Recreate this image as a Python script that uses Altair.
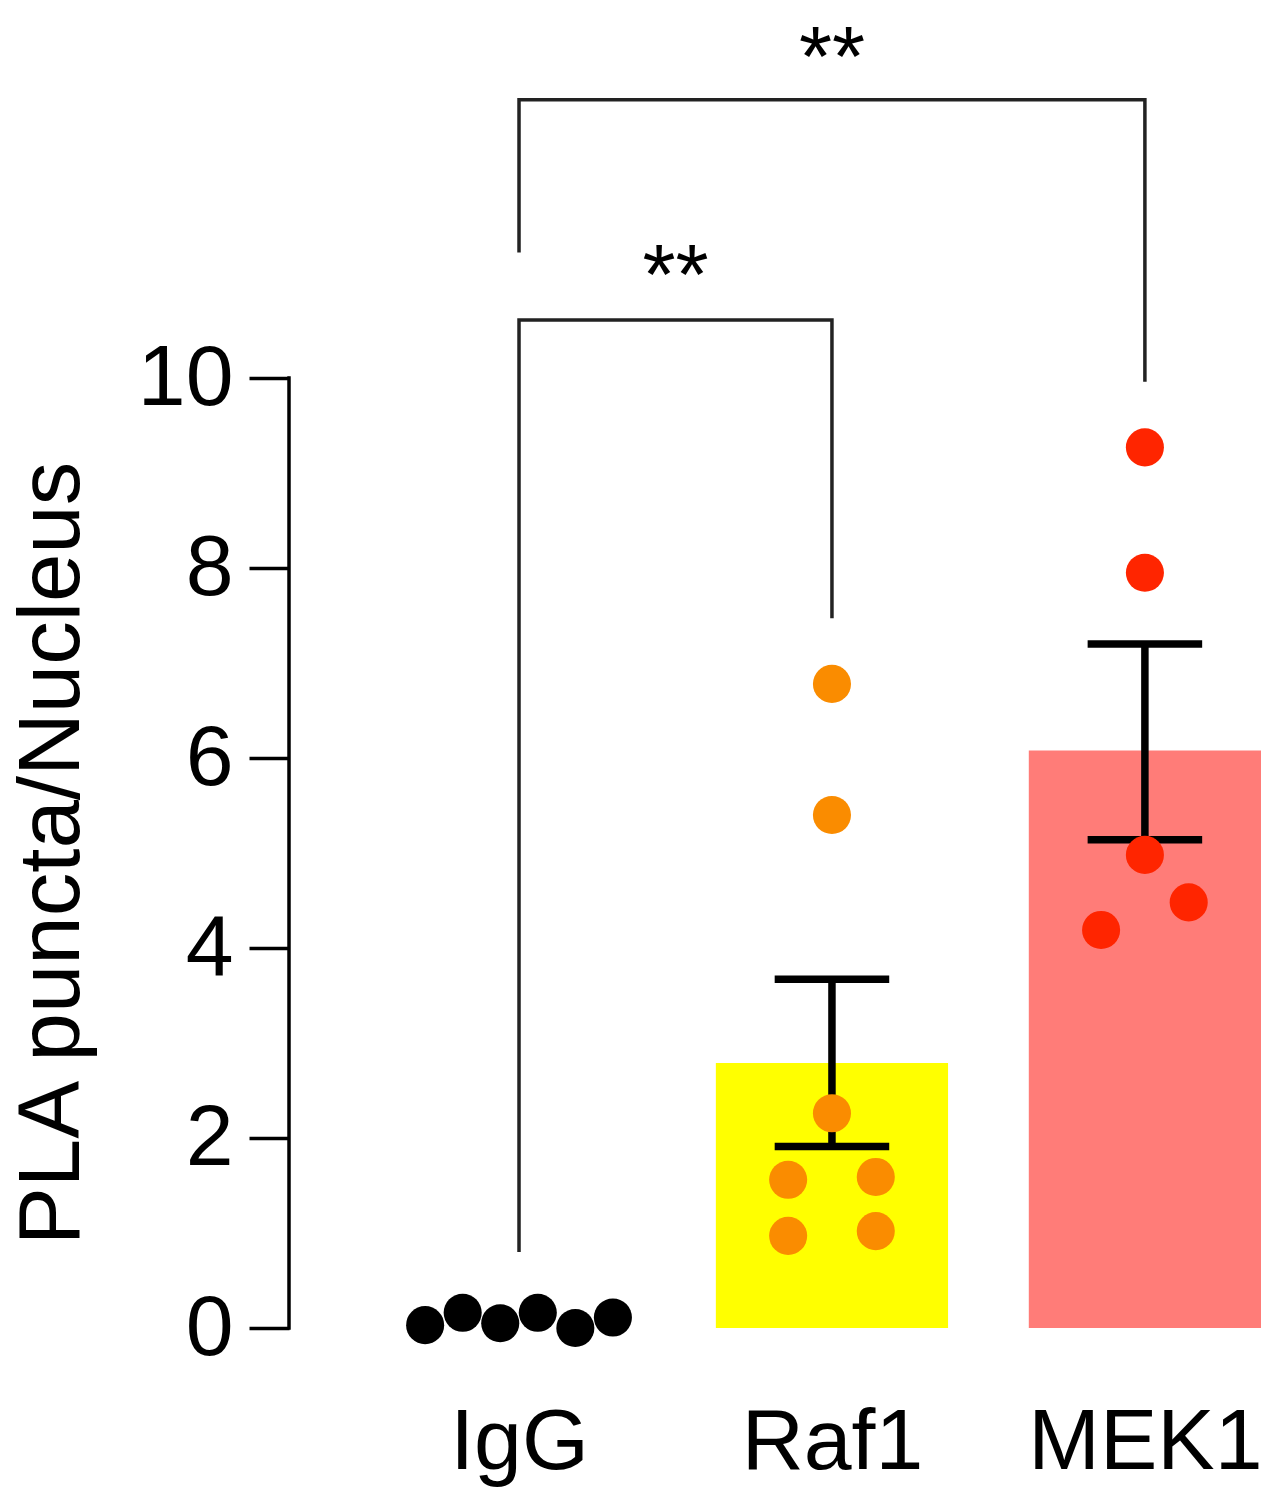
import altair as alt
import pandas as pd

# ---- data ----
groups = ["IgG", "Raf1", "MEK1"]
bar_means = [0.09, 2.79, 6.08]
bar_colors = ["#FFFFFF", "#FFFF00", "#FF7C78"]
err_lo = [None, 1.91, 5.14]
err_hi = [None, 3.67, 7.20]

igg_vals = [0.03, 0.16, 0.05, 0.16, 0.00, 0.11]
igg_off = [-0.30, -0.18, -0.06, 0.06, 0.18, 0.30]
raf1_vals = [6.78, 5.40, 2.26, 1.56, 1.59, 0.97, 1.02]
raf1_off = [0.0, 0.0, 0.0, -0.14, 0.14, -0.14, 0.14]
mek1_vals = [9.27, 7.95, 4.98, 4.48, 4.19]
mek1_off = [0.0, 0.0, 0.0, 0.14, -0.14]
point_colors = ["#000000", "#FA8C00", "#FF2500"]

# significance brackets: (left group, right group, left-bottom, top, right-bottom)
brackets = [(0, 1, 0.80, 10.61, 7.47), (0, 2, 11.32, 12.93, 9.96)]
sig_labels = ["**", "**"]
sig_y = [10.78, 13.07]

yticks = [0, 2, 4, 6, 8, 10]

FONT = "Liberation Sans"
HALF_BAR = 0.371
HALF_CAP = 0.183

# ---- tables ----
bars = pd.DataFrame({
    "g": groups,
    "xc": list(range(len(groups))),
    "mean": bar_means,
    "color": bar_colors,
})
bars["x1"] = bars["xc"] - HALF_BAR
bars["x2"] = bars["xc"] + HALF_BAR
bars["base"] = 0.0

err = pd.DataFrame({"xc": list(range(len(groups))), "lo": err_lo, "hi": err_hi}).dropna()
caps = pd.concat([
    pd.DataFrame({"x1": err["xc"] - HALF_CAP, "x2": err["xc"] + HALF_CAP, "y": err["lo"]}),
    pd.DataFrame({"x1": err["xc"] - HALF_CAP, "x2": err["xc"] + HALF_CAP, "y": err["hi"]}),
])

pts_rows = []
for gi, (vals, offs) in enumerate([(igg_vals, igg_off), (raf1_vals, raf1_off), (mek1_vals, mek1_off)]):
    for v, o in zip(vals, offs):
        pts_rows.append({"g": groups[gi], "x": gi + o, "y": v, "color": point_colors[gi]})
pts = pd.DataFrame(pts_rows)

br_rows = []
for bi, (a, b, yl, yt, yr) in enumerate(brackets):
    br_rows += [
        {"b": bi, "o": 0, "x": a, "y": yl},
        {"b": bi, "o": 1, "x": a, "y": yt},
        {"b": bi, "o": 2, "x": b, "y": yt},
        {"b": bi, "o": 3, "x": b, "y": yr},
    ]
br = pd.DataFrame(br_rows)

sig = pd.DataFrame({
    "x": [(a + b) / 2 for (a, b, *_r) in brackets],
    "y": sig_y,
    "t": sig_labels,
})

axis_df = pd.DataFrame({"y0": [min(yticks)], "y1": [max(yticks)]})

# ---- scales / axes ----
xscale = alt.Scale(domain=[-0.735, 2.371], nice=False, zero=False)
yscale = alt.Scale(domain=[0, 13.895], nice=False, zero=False)

label_expr = "[" + ",".join("'" + g + "'" for g in groups) + "][datum.value]"
xaxis = alt.Axis(
    values=list(range(len(groups))), labelExpr=label_expr, title=None,
    ticks=False, domain=False, grid=False,
    labelFont=FONT, labelFontSize=86, labelColor="black", labelLimit=0,
    labelBaseline="alphabetic", labelPadding=140, labelFlush=False,
)
yaxis = alt.Axis(
    values=yticks, format="d", title="PLA puncta/Nucleus", domain=False, grid=False,
    tickSize=40, tickWidth=3.5, tickColor="black",
    labelFont=FONT, labelFontSize=86, labelColor="black", labelPadding=16, labelLimit=0,
    titleFont=FONT, titleFontSize=87, titleFontWeight="normal", titleColor="black",
    titleAngle=-90, titleBaseline="alphabetic", titleAlign="center",
    titleX=-211, titleY=845, titleLimit=0,
)

bar_layer = alt.Chart(bars).mark_rect().encode(
    x=alt.X("x1:Q", scale=xscale, axis=xaxis),
    x2="x2:Q",
    y=alt.Y("mean:Q", scale=yscale, axis=yaxis),
    y2="base:Q",
    color=alt.Color("color:N", scale=None),
)

axis_line = alt.Chart(axis_df).mark_rule(color="black", strokeWidth=3.5, strokeCap="square").encode(
    x=alt.value(0), y="y0:Q", y2="y1:Q"
)

err_v = alt.Chart(err).mark_rule(color="black", strokeWidth=7.5).encode(
    x="xc:Q", y="lo:Q", y2="hi:Q"
)
err_c = alt.Chart(caps).mark_rule(color="black", strokeWidth=7.5).encode(
    x="x1:Q", x2="x2:Q", y="y:Q"
)

pt_layer = alt.Chart(pts).mark_circle(opacity=1, size=1450).encode(
    x="x:Q", y="y:Q", color=alt.Color("color:N", scale=None)
)

br_layer = alt.Chart(br).mark_line(color="#222222", strokeWidth=3.5, strokeJoin="miter").encode(
    x="x:Q", y="y:Q", detail="b:N", order="o:Q"
)

sig_layer = alt.Chart(sig).mark_text(
    font=FONT, fontSize=85, baseline="alphabetic", align="center", color="black"
).encode(x="x:Q", y="y:Q", text="t:N")

chart = alt.layer(
    bar_layer, axis_line, err_v, err_c, pt_layer, br_layer, sig_layer
).properties(
    width=972, height=1320,
    background="white",
    autosize=alt.AutoSizeParams(type="none"),
    padding={"left": 281, "top": 0, "right": 0, "bottom": 160},
).configure_view(stroke=None, strokeWidth=0)

chart.save("out.html", embed_options={"renderer": "svg", "actions": False})
